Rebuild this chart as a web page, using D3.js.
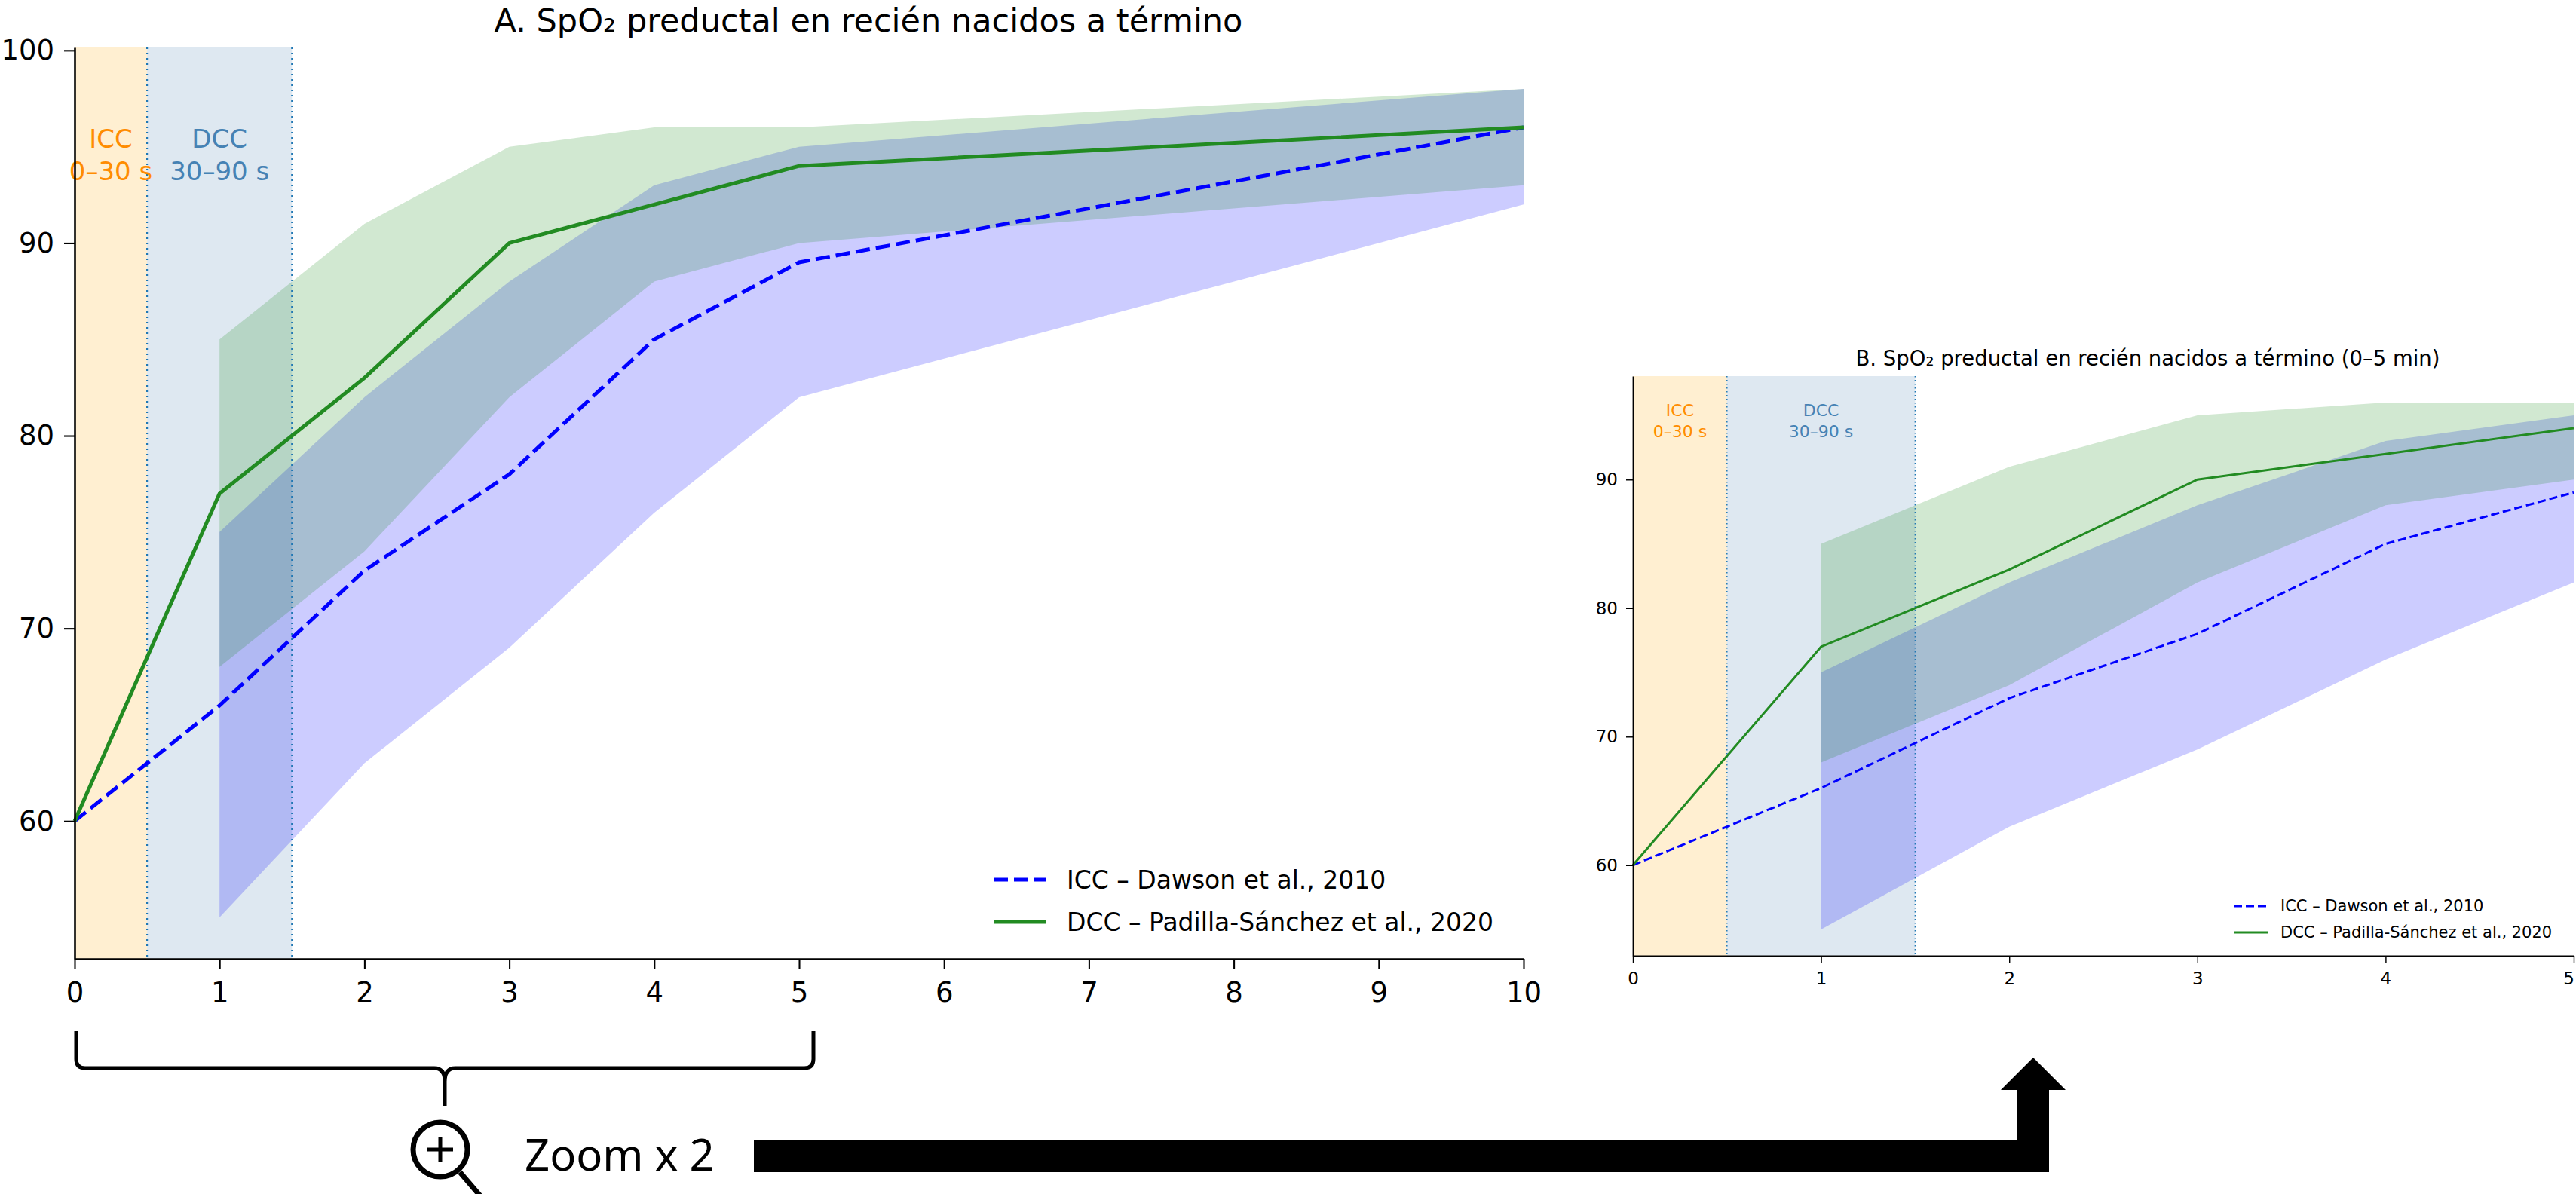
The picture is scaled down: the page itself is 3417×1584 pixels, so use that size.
<!DOCTYPE html>
<html>
<head>
<meta charset="utf-8">
<script src="https://cdn.jsdelivr.net/npm/d3@7"></script>
<style>
  body { margin: 0; background: #fff; }
  svg { display: block; font-family: "DejaVu Sans", sans-serif; }
</style>
</head>
<body>
<div id="chart"></div>
<script>
// Preductal SpO2 in term newborns: ICC (Dawson 2010) vs DCC (Padilla-Sánchez 2020)

// Medians (minutes of life)
const timeMin = [0, 1, 2, 3, 4, 5, 10];
const iccMedian = [60, 66, 73, 78, 85, 89, 96];
const dccMedian = [60, 77, 83, 90, 92, 94, 96];

// Percentile bands (start at minute 1)
const bandTime = [1, 2, 3, 4, 5, 10];
const iccLow = [55, 63, 69, 76, 82, 92];
const iccHigh = [75, 82, 88, 93, 95, 98];
const dccLow = [68, 74, 82, 88, 90, 93];
const dccHigh = [85, 91, 95, 96, 96, 98];

// Cord clamping windows (minutes)
const iccWindow = [0, 0.5];
const dccWindow = [0.5, 1.5];
const windowLabels = [["ICC", "0–30 s"], ["DCC", "30–90 s"]];

const seriesNames = ["ICC – Dawson et al., 2010", "DCC – Padilla-Sánchez et al., 2020"];
const yTicks = [60, 70, 80, 90, 100];

const W = 3417, H = 1584;
const svg = d3.select("#chart").append("svg")
    .attr("width", W)
    .attr("height", H);

function drawPanel(p) {
    const x = d3.scaleLinear().domain([0, p.xMax]).range([p.left, p.right]);
    const y = d3.scaleLinear().domain(p.yDomain).range([p.bottom, p.top]);
    const g = svg.append("g");

    const line = d3.line().x(d => x(d[0])).y(d => y(d[1]));
    const area = d3.area().x(d => x(d[0])).y0(d => y(d[1])).y1(d => y(d[2]));

    const med = (vals) => timeMin.map((t, i) => [t, vals[i]]).filter(d => d[0] <= p.xMax);
    const band = (lo, hi) => bandTime.map((t, i) => [t, lo[i], hi[i]]).filter(d => d[0] <= p.xMax);

    // clamping windows
    g.append("rect")
        .attr("x", x(iccWindow[0])).attr("width", x(iccWindow[1]) - x(iccWindow[0]))
        .attr("y", p.top).attr("height", p.bottom - p.top)
        .attr("fill", "orange").attr("fill-opacity", 0.18);
    g.append("rect")
        .attr("x", x(dccWindow[0])).attr("width", x(dccWindow[1]) - x(dccWindow[0]))
        .attr("y", p.top).attr("height", p.bottom - p.top)
        .attr("fill", "steelblue").attr("fill-opacity", 0.18);

    // bands
    g.append("path").datum(band(iccLow, iccHigh))
        .attr("d", area).attr("fill", "blue").attr("fill-opacity", 0.2);
    g.append("path").datum(band(dccLow, dccHigh))
        .attr("d", area).attr("fill", "green").attr("fill-opacity", 0.18);

    // window borders
    [iccWindow[1], dccWindow[1]].forEach(v => {
        g.append("line")
            .attr("x1", x(v)).attr("x2", x(v))
            .attr("y1", p.top).attr("y2", p.bottom)
            .attr("stroke", "#1f77b4").attr("stroke-width", p.vlineW)
            .attr("stroke-dasharray", p.dotDash);
    });

    // window labels
    const labelPos = [[(iccWindow[0] + iccWindow[1]) / 2, "darkorange"], [(dccWindow[0] + dccWindow[1]) / 2, "steelblue"]];
    labelPos.forEach((lp, i) => {
        const t = g.append("text")
            .attr("x", x(lp[0])).attr("y", y(95.4))
            .attr("text-anchor", "middle")
            .attr("dominant-baseline", "central")
            .attr("fill", lp[1])
            .style("font-size", p.spanFont + "px");
        windowLabels[i].forEach((s, k) => {
            t.append("tspan").attr("x", x(lp[0])).attr("dy", k === 0 ? 0 : "1.25em").text(s);
        });
    });

    // median lines
    g.append("path").datum(med(iccMedian))
        .attr("d", line).attr("fill", "none")
        .attr("stroke", "blue").attr("stroke-width", p.lineW)
        .attr("stroke-dasharray", p.dash);
    g.append("path").datum(med(dccMedian))
        .attr("d", line).attr("fill", "none")
        .attr("stroke", "forestgreen").attr("stroke-width", p.lineW);

    // axes
    const xAxis = g.append("g")
        .attr("transform", "translate(0," + p.bottom + ")")
        .call(d3.axisBottom(x).ticks(p.xMax).tickSize(p.tick).tickSizeOuter(0).tickPadding(p.xPad));
    const yAxis = g.append("g")
        .attr("transform", "translate(" + p.left + ",0)")
        .call(d3.axisLeft(y).tickValues(yTicks.filter(v => v <= p.yDomain[1])).tickSize(p.tick).tickSizeOuter(0).tickPadding(p.yPad));
    [xAxis, yAxis].forEach(a => {
        a.selectAll("text").style("font-size", p.tickFont + "px").attr("fill", "#000")
            .style("font-family", "DejaVu Sans");
        a.selectAll("line").attr("stroke", "#000").attr("stroke-width", p.spineW * 0.8);
        a.select(".domain").attr("stroke", "#000").attr("stroke-width", p.spineW);
    });
    // keep the last x label inside the page
    if (p.lastLabelShift) {
        xAxis.selectAll(".tick text").filter(d => d === p.xMax).attr("dx", p.lastLabelShift);
    }

    // title
    g.append("text")
        .attr("x", p.titleX).attr("y", p.titleY)
        .attr("text-anchor", "middle")
        .style("font-size", p.titleFont + "px")
        .text(p.title);

    // legend
    const lg = g.append("g");
    seriesNames.forEach((name, i) => {
        const yy = p.legY + i * p.legGap;
        lg.append("line")
            .attr("x1", p.legX).attr("x2", p.legX + p.legLen)
            .attr("y1", yy).attr("y2", yy)
            .attr("stroke", i === 0 ? "blue" : "forestgreen")
            .attr("stroke-width", p.lineW)
            .attr("stroke-dasharray", i === 0 ? p.dash : null);
        lg.append("text")
            .attr("x", p.legX + p.legLen + p.legTextGap).attr("y", yy)
            .attr("dominant-baseline", "central")
            .style("font-size", p.legFont + "px")
            .text(name);
    });

    return x;
}

// Panel A: full 0–10 min
const xA = drawPanel({
    xMax: 10, yDomain: [52.85, 100.15],
    left: 99, right: 2021, top: 63, bottom: 1272,
    lineW: 5, dash: "19,8", vlineW: 2.2, dotDash: "2,5", spineW: 2.6,
    tick: 14, xPad: 17, yPad: 13, tickFont: 37, spanFont: 34,
    title: "A. SpO₂ preductal en recién nacidos a término", titleX: 1152, titleY: 42, titleFont: 43,
    legX: 1318, legY: 1167, legGap: 56, legLen: 69, legTextGap: 28, legFont: 33
});

// Panel B: zoom on 0–5 min
drawPanel({
    xMax: 5, yDomain: [52.95, 98.05],
    left: 2166, right: 3414, top: 499, bottom: 1268,
    lineW: 3, dash: "11,5", vlineW: 1.5, dotDash: "1.5,3.5", spineW: 1.8,
    tick: 9, xPad: 13, yPad: 11, tickFont: 23, spanFont: 22,
    title: "B. SpO₂ preductal en recién nacidos a término (0–5 min)", titleX: 2849, titleY: 485, titleFont: 27.5,
    legX: 2963, legY: 1202, legGap: 35, legLen: 46, legTextGap: 16, legFont: 21,
    lastLabelShift: -7
});

// Brace under the 0–5 min range of panel A
const bx0 = xA(0) + 2, bx1 = xA(5) + 19, bm = (bx0 + bx1) / 2;
const bTop = 1368, bBar = 1417, bTip = 1467, r = 12;
svg.append("path")
    .attr("d", `M${bx0},${bTop} V${bBar - r} Q${bx0},${bBar} ${bx0 + r},${bBar} H${bm - 14} Q${bm},${bBar} ${bm},${bBar + 18} V${bTip}
                M${bm},${bBar + 18} Q${bm},${bBar} ${bm + 14},${bBar} H${bx1 - r} Q${bx1},${bBar} ${bx1},${bBar - r} V${bTop}`)
    .attr("fill", "none").attr("stroke", "#000").attr("stroke-width", 5);

// Magnifier icon
const mg = svg.append("g").attr("transform", "translate(584,1525)");
mg.append("line").attr("x1", 26).attr("y1", 30).attr("x2", 62).attr("y2", 72)
    .attr("stroke", "#000").attr("stroke-width", 7);
mg.append("circle").attr("r", 36).attr("fill", "#fff").attr("stroke", "#000").attr("stroke-width", 7);
mg.append("line").attr("x1", -17).attr("x2", 17).attr("y1", 0).attr("y2", 0).attr("stroke", "#000").attr("stroke-width", 5);
mg.append("line").attr("x1", 0).attr("x2", 0).attr("y1", -17).attr("y2", 17).attr("stroke", "#000").attr("stroke-width", 5);

svg.append("text")
    .attr("x", 696).attr("y", 1553)
    .style("font-family", "'Noto Sans', sans-serif")
    .style("font-size", "58px")
    .text("Zoom x 2");

// Arrow pointing to panel B
svg.append("path")
    .attr("d", "M1000,1513 H2676 V1446 H2654 L2697,1403 L2740,1446 H2718 V1555 H1000 Z")
    .attr("fill", "#000");
</script>
</body>
</html>
